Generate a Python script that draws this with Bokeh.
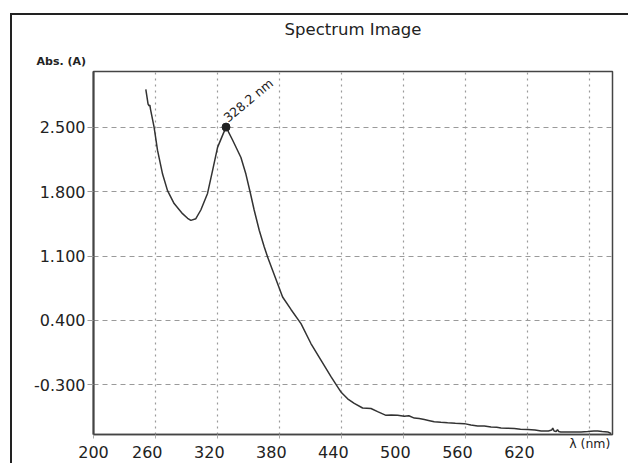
from bokeh.plotting import figure
from bokeh.models import Range1d, FixedTicker, LinearAxis, Label, Title
from bokeh.embed import file_html
from bokeh.resources import INLINE

# ---- data ----
wavelength = [250.6, 252.8, 253.8, 254.5, 255.2, 258.6, 261.9, 266.8, 271.6, 278.0, 286.1, 291.0,
              294.2, 299.0, 303.8, 310.3, 315.2, 320.0, 324.8, 328.2, 334.5, 342.6, 347.4, 351.6,
              355.4, 360.3, 365.1, 368.4, 373.2, 378.1, 382.9, 391.0, 400.7, 410.3, 420.0, 429.7,
              436.1, 439.3, 445.8, 452.2, 460.3, 468.4, 474.8, 482.9, 488.0, 494.2, 500.6, 505.0,
              510.3, 515.0, 520.0, 524.0, 529.6, 536.0, 542.6, 550.0, 558.7, 565.0, 571.6, 578.0,
              584.5, 590.0, 594.2, 600.0, 607.0, 613.0, 620.0, 627.0, 633.0, 640.0, 643.2, 644.2,
              645.5, 647.5, 648.8, 650.0, 652.0, 658.7, 665.0, 671.6, 678.0, 684.0, 687.7, 692.0,
              697.4, 700.6]
absorbance = [2.91, 2.75, 2.73, 2.74, 2.69, 2.50, 2.25, 1.99, 1.81, 1.67, 1.56, 1.51,
              1.487, 1.505, 1.60, 1.78, 2.03, 2.28, 2.41, 2.50, 2.36, 2.17, 1.99, 1.79,
              1.60, 1.38, 1.20, 1.09, 0.945, 0.80, 0.655, 0.52, 0.366, 0.15, -0.03, -0.21,
              -0.32, -0.376, -0.45, -0.50, -0.55, -0.556, -0.59, -0.63, -0.625, -0.63, -0.64, -0.635,
              -0.66, -0.665, -0.675, -0.685, -0.70, -0.705, -0.71, -0.715, -0.72, -0.735, -0.745, -0.745,
              -0.756, -0.76, -0.767, -0.77, -0.773, -0.78, -0.784, -0.79, -0.80, -0.80, -0.79, -0.767,
              -0.80, -0.805, -0.785, -0.805, -0.81, -0.81, -0.81, -0.81, -0.805, -0.80, -0.80, -0.805,
              -0.81, -0.827]

peak_nm = [328.2]
peak_abs = [2.50]
peak_text = "328.2 nm"

x_ticks = [200, 260, 320, 380, 440, 500, 560, 620, 680]
x_tick_labels = ["200", "260", "320", "380", "440", "500", "560", "620"]
y_ticks = [2.5, 1.8, 1.1, 0.4, -0.3]

title_text = "Spectrum Image"
y_title = "Abs. (A)"
x_title = "λ (nm)"

X0, X1 = 200, 702
Y0, Y1 = -0.838, 3.104
SHIFT = 8  # numeric tick labels sit ~8px left of their grid lines

p = figure(width=628, height=463, output_backend="svg", toolbar_location=None,
           x_range=Range1d(X0, X1), y_range=Range1d(Y0, Y1),
           min_border_left=93, min_border_right=16, min_border_top=71, min_border_bottom=29)
p.border_fill_color = None
p.background_fill_color = "white"
p.styles = {"background": "linear-gradient(#222,#222) 10px 13px / 2px calc(100% - 13px) no-repeat, "
                          "linear-gradient(#222,#222) 10px 13px / calc(100% - 10px) 2px no-repeat, #ffffff"}

p.title.text = title_text
p.title.align = "center"
p.title.text_font = "DejaVu Sans"
p.title.text_font_size = "16.5px"
p.title.text_font_style = "normal"
p.title.text_color = "#222222"
p.title.standoff = 22

p.add_layout(Title(text=y_title, align="left", offset=-57, standoff=7, text_font="DejaVu Sans",
                   text_font_size="11px", text_font_style="bold", text_color="#222222"), "above")

p.outline_line_color = "#444444"
p.outline_line_width = 1.5

# main x axis: tick marks + the axis title at the last grid line
p.xaxis.ticker = FixedTicker(ticks=[680], minor_ticks=x_ticks[:-1])
p.xaxis.major_label_overrides = {680: x_title}
p.xaxis.major_label_text_font = "DejaVu Sans"
p.xaxis.major_label_text_font_size = "12.5px"
p.xaxis.major_label_text_color = "#222222"
p.xaxis.major_label_standoff = -3
p.xaxis.axis_line_color = "#444444"
p.xaxis.axis_line_width = 1.5
p.xaxis.major_tick_out = 4
p.xaxis.major_tick_in = 0
p.xaxis.minor_tick_out = 4
p.xaxis.minor_tick_in = 0
p.xaxis.major_tick_line_color = "#aaaaaa"
p.xaxis.minor_tick_line_color = "#aaaaaa"

# numeric x tick labels (shifted ~8px left, as in the reference)
p.extra_x_ranges = {"lab": Range1d(X0 + SHIFT, X1 + SHIFT)}
lab_values = [X0 + SHIFT] + x_ticks[1:len(x_tick_labels)]
lab_axis = LinearAxis(x_range_name="lab", ticker=FixedTicker(ticks=lab_values))
lab_axis.major_label_overrides = dict(zip(lab_values, x_tick_labels))
lab_axis.axis_line_color = None
lab_axis.major_tick_line_color = None
lab_axis.minor_tick_line_color = None
lab_axis.major_tick_out = 0
lab_axis.major_tick_in = 0
lab_axis.minor_tick_out = 0
lab_axis.minor_tick_in = 0
lab_axis.major_label_standoff = -8
lab_axis.major_label_text_font = "DejaVu Sans"
lab_axis.major_label_text_font_size = "16px"
lab_axis.major_label_text_color = "#222222"
p.add_layout(lab_axis, "below")

p.xgrid.ticker = FixedTicker(ticks=x_ticks)
p.xgrid.grid_line_color = "#9a9a9a"
p.xgrid.grid_line_dash = "2 4"
p.xgrid.grid_line_width = 1.2

p.yaxis.ticker = FixedTicker(ticks=y_ticks)
p.yaxis.major_label_overrides = {t: f"{t:.3f}" for t in y_ticks}
p.yaxis.major_label_text_font = "DejaVu Sans"
p.yaxis.major_label_text_font_size = "16px"
p.yaxis.major_label_text_color = "#222222"
p.yaxis.major_label_standoff = 2
p.yaxis.axis_line_color = "#444444"
p.yaxis.axis_line_width = 2
p.yaxis.major_tick_out = 6
p.yaxis.major_tick_in = 0
p.yaxis.major_tick_line_color = "#9a9a9a"
p.yaxis.minor_tick_line_color = None
p.ygrid.grid_line_color = "#9a9a9a"
p.ygrid.grid_line_dash = "5 4"
p.ygrid.grid_line_width = 1.2

p.line(wavelength, absorbance, line_color="#333333", line_width=1.5)
p.scatter(peak_nm, peak_abs, size=8, color="#222222")
p.add_layout(Label(x=peak_nm[0], y=peak_abs[0], text=peak_text, angle=0.69, x_offset=4, y_offset=2,
                   text_align="left", text_baseline="bottom", text_font="DejaVu Sans",
                   text_font_size="12.5px", text_color="#222222"))

open("out.html", "w").write(file_html(p, INLINE))
